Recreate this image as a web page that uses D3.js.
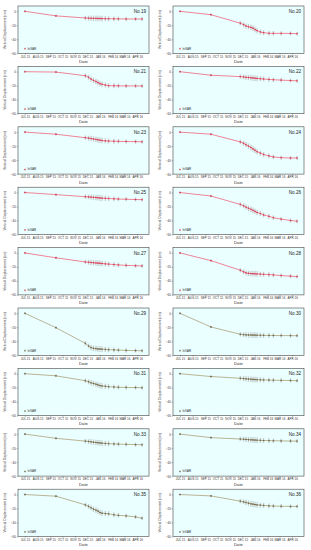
<!DOCTYPE html>
<html>
<head>
<meta charset="utf-8">
<script src="https://cdn.jsdelivr.net/npm/d3@7"></script>
<style>
  body { margin: 0; background: #fff; }
  svg { display: block; font-family: "Liberation Sans", Arial, sans-serif; }
</style>
</head>
<body>
<svg id="chart" width="311" height="550"></svg>
<script>
// observation dates (same for every point)
var dates = ["2015-07-01", "2015-09-15", "2015-11-26", "2015-12-04", "2015-12-10", "2015-12-16",
  "2015-12-22", "2015-12-27", "2016-01-01", "2016-01-06", "2016-01-14", "2016-01-22",
  "2016-02-04", "2016-02-15", "2016-03-05", "2016-03-28", "2016-04-13"];
var monthTicks = ["2015-07-01", "2015-08-01", "2015-09-01", "2015-10-01", "2015-11-01",
  "2015-12-01", "2016-01-01", "2016-02-01", "2016-03-01", "2016-04-01"];
var monthLabels = ["JUL 15", "AUG 15", "SEP 15", "OCT 15", "NOV 15", "DEC 15", "JAN 16", "FEB 16", "MAR 16", "APR 16"];
var yTicks = [0, -20, -40, -60];

var panelNames = ["No.19", "No.20", "No.21", "No.22", "No.23", "No.24", "No.25", "No.26", "No.27",
  "No.28", "No.29", "No.30", "No.31", "No.32", "No.33", "No.34", "No.35", "No.36"];

// vertical displacement (cm) per point
var no19 = [0, -6.5, -9.5, -9.8, -10, -10, -10.1, -10.2, -10.3, -10.4, -10.5, -10.6, -10.7, -10.8, -11, -11, -11];
var no20 = [0, -4.8, -17, -19, -21, -22, -23, -24, -26, -27.6, -29.5, -30.5, -31.4, -31.5, -31.5, -31.6, -32];
var no21 = [0, -0.5, -5.7, -8, -10.5, -12.4, -14, -15.5, -17, -18, -19, -20, -20, -20.2, -20.3, -20.3, -20.4];
var no22 = [0, -5, -7, -7.5, -8, -8.3, -8.6, -9, -9.3, -9.6, -10, -10.4, -11, -11.5, -12, -12.6, -13];
var no23 = [0, -3, -8, -8.6, -9.2, -9.8, -10.4, -11, -11.5, -12, -12.5, -12.8, -13, -13.2, -13.4, -13.6, -13.8];
var no24 = [0, -3, -14, -16, -18, -20, -22, -24, -26, -28, -30, -32, -34, -35.5, -36.5, -37, -37];
var no25 = [0, -3, -6, -6.3, -6.6, -6.9, -7.2, -7.5, -7.8, -8, -8.3, -8.6, -9, -9.3, -9.6, -10, -10.2];
var no26 = [0, -5, -17, -19, -21, -22.5, -24, -25.5, -27, -28.5, -30, -32, -34, -36, -38, -40, -41];
var no27 = [0, -7, -12.9, -13.3, -13.7, -14, -14.3, -14.6, -14.8, -15.2, -15.6, -16, -16.6, -17.2, -17.8, -18.3, -18.6];
var no28 = [0, -11, -24.8, -27, -28.6, -29.2, -29.5, -29.7, -29.8, -30, -30.3, -30.6, -31, -31.5, -32.3, -33.2, -33.8];
var no29 = [0, -20.5, -42.9, -46.7, -49, -50, -50.5, -51, -51, -51.3, -51.6, -52, -52.3, -52.6, -53, -53.3, -53.5];
var no30 = [0, -19.5, -30, -30.5, -30.8, -31, -31, -31.1, -31.2, -31.3, -31.4, -31.5, -31.6, -31.7, -31.8, -31.9, -32];
var no31 = [0, -3, -10, -11.5, -13, -14, -15, -16, -17, -17.5, -18, -18.5, -19, -19.3, -19.6, -19.8, -20];
var no32 = [0, -4, -6.5, -7, -7.3, -7.6, -7.9, -8.1, -8.3, -8.5, -8.7, -8.9, -9.1, -9.3, -9.5, -9.7, -10];
var no33 = [0, -6, -10, -10.5, -11, -11.5, -12, -12.3, -12.6, -13, -13.3, -13.6, -14, -14.3, -14.6, -15, -15.2];
var no34 = [0, -5, -7, -7.3, -7.6, -7.9, -8.1, -8.3, -8.5, -8.7, -8.9, -9.1, -9.3, -9.5, -9.7, -9.9, -10];
var no35 = [0, -2.4, -14.8, -17, -19, -21, -22.4, -23.8, -25.7, -26.7, -27.2, -27.6, -29, -29.8, -30.5, -32, -33.8];
var no36 = [0, -2, -9.5, -10.5, -11.4, -12.4, -13.3, -13.8, -14.3, -14.8, -15.2, -15.6, -16.2, -16.5, -16.8, -17, -17];
var series = [no19, no20, no21, no22, no23, no24, no25, no26, no27, no28, no29, no30, no31, no32, no33, no34, no35, no36];

// error bar half length (cm)
var errHalf = [0.6, 0.8, 2.5, 2.8, 3, 3.2, 3.2, 3.3, 3.3, 3.3, 3, 3, 2.8, 2.6, 2.4, 2.2, 2];

var parse = d3.timeParse("%Y-%m-%d");
var svg = d3.select("#chart");

var colX = [18, 173], plotW = 131;
var rowPitch = 60.4, top0 = 6, plotH = 47.3;

var x = d3.scaleTime()
  .domain([parse("2015-06-14"), parse("2016-04-30")])
  .range([0, plotW]);
var y = d3.scaleLinear().domain([-60, 7.6]).range([plotH, 0]);

series.forEach(function (vals, i) {
  var col = i % 2, row = Math.floor(i / 2);
  var late = i >= 10;
  var lineColor = late ? "#a39466" : "#f0506a";
  var markColor = late ? "#5a4a30" : "#d0203c";
  var g = svg.append("g").attr("transform", "translate(" + colX[col] + "," + (top0 + row * rowPitch) + ")");

  g.append("rect").attr("width", plotW).attr("height", plotH)
    .attr("fill", "#eaffff").attr("stroke", "#444").attr("stroke-width", 0.6);

  var xa = g.append("g").attr("transform", "translate(0," + plotH + ")")
    .call(d3.axisBottom(x).tickValues(monthTicks.map(parse)).tickSize(1.2).tickPadding(1)
      .tickFormat(function (d, k) { return monthLabels[k]; }));
  xa.select(".domain").remove();
  xa.selectAll("line").attr("stroke", "#444").attr("stroke-width", 0.4);
  xa.selectAll("text").attr("font-size", 3).attr("fill", "#333").attr("font-family", null);

  var ya = g.append("g").call(d3.axisLeft(y).tickValues(yTicks).tickSize(1.2).tickPadding(1));
  ya.select(".domain").remove();
  ya.selectAll("line").attr("stroke", "#444").attr("stroke-width", 0.4);
  ya.selectAll("text").attr("font-size", 3).attr("fill", "#333").attr("font-family", null);

  g.append("text").attr("x", plotW / 2).attr("y", plotH + 9.5).attr("text-anchor", "middle")
    .attr("font-size", 4.2).attr("fill", "#333").text("Date");
  g.append("text").attr("transform", "translate(" + (-12) + "," + (plotH / 2) + ") rotate(-90)")
    .attr("text-anchor", "middle").attr("font-size", 3.3).attr("fill", "#333")
    .text("Vertical Displacement (cm)");
  g.append("text").attr("x", plotW - 3).attr("y", 7).attr("text-anchor", "end")
    .attr("font-size", 4.6).attr("fill", "#222").text(panelNames[i]);

  var pts = vals.map(function (v, k) { return { t: parse(dates[k]), v: v, e: errHalf[k] }; });

  // error bars
  var eb = g.append("g").attr("stroke", "#9a9a9a").attr("stroke-width", 0.35);
  pts.forEach(function (p) {
    var px = x(p.t);
    eb.append("line").attr("x1", px).attr("x2", px).attr("y1", y(p.v - p.e)).attr("y2", y(p.v + p.e));
    eb.append("line").attr("x1", px - 0.8).attr("x2", px + 0.8).attr("y1", y(p.v - p.e)).attr("y2", y(p.v - p.e));
    eb.append("line").attr("x1", px - 0.8).attr("x2", px + 0.8).attr("y1", y(p.v + p.e)).attr("y2", y(p.v + p.e));
  });

  g.append("path").datum(pts)
    .attr("fill", "none").attr("stroke", lineColor).attr("stroke-width", 0.7)
    .attr("d", d3.line().x(function (p) { return x(p.t); }).y(function (p) { return y(p.v); }));

  var mk = g.append("g").attr("stroke", markColor).attr("stroke-width", 0.5);
  pts.forEach(function (p) {
    var px = x(p.t), py = y(p.v);
    mk.append("line").attr("x1", px - 1).attr("x2", px + 1).attr("y1", py).attr("y2", py);
    mk.append("line").attr("x1", px).attr("x2", px).attr("y1", py - 1).attr("y2", py + 1);
  });

  // legend
  var lx = 7, ly = plotH - 4.6;
  mk.append("line").attr("x1", lx - 1).attr("x2", lx + 1).attr("y1", ly).attr("y2", ly);
  mk.append("line").attr("x1", lx).attr("x2", lx).attr("y1", ly - 1).attr("y2", ly + 1);
  g.append("text").attr("x", lx + 2.5).attr("y", ly + 1).attr("font-size", 3).attr("fill", "#333").text("InSAR");
});
</script>
</body>
</html>
